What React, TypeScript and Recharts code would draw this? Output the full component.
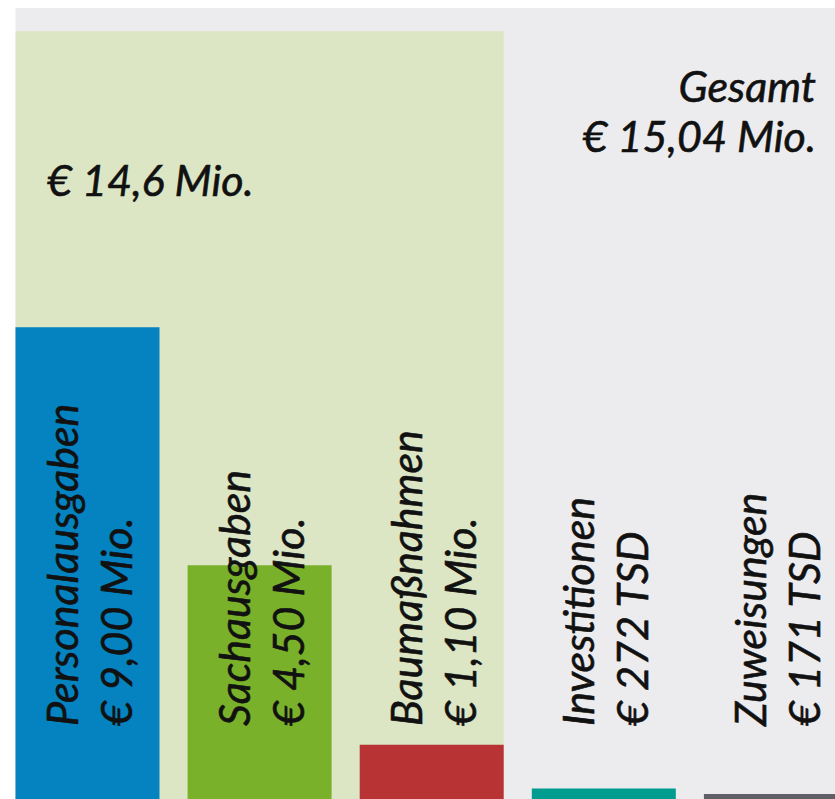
import { Bar, BarChart, Cell, LabelList, ReferenceArea, XAxis, YAxis } from "recharts";

// Haushalt: Ausgaben nach Bereichen (Mio. €)
const categories = ["Personalausgaben", "Sachausgaben", "Baumaßnahmen", "Investitionen", "Zuweisungen"];
const amounts = [9.0, 4.5, 1.1, 0.272, 0.171];
const amountLabels = ["€ 9,00 Mio.", "€ 4,50 Mio.", "€ 1,10 Mio.", "€ 272 TSD", "€ 171 TSD"];

const groupTotal = 14.6;
const groupLabel = "€ 14,6 Mio.";
const grandTotal = 15.04;
const grandTitle = "Gesamt";
const grandLabel = "€ 15,04 Mio.";

const barColors = ["#0483c0", "#7ab12b", "#b83334", "#009c8f", "#5f5f68"];

const data = categories.map((name, i) => ({ name, value: amounts[i] }));

const BAR_SIZE = 144;
const font = {
  fontFamily: "Lato",
  fontStyle: "italic",
  fontSize: 43,
  fill: "#111",
  stroke: "#111",
  strokeWidth: 0.6,
} as const;

// ReferenceArea spans whole bands; pull edges in so they line up with the bars
const inset = (props: any, from: string, to: string) => {
  const count = categories.indexOf(to) - categories.indexOf(from) + 1;
  return (props.width / count - BAR_SIZE) / 2;
};

const GroupShape = (props: any) => {
  const d = inset(props, categories[0], categories[2]);
  const x = props.x + d;
  return (
    <g>
      <rect x={x} y={props.y} width={props.width - 2 * d} height={props.height} fill="#dce6c5" />
      <text x={x + 31.5} y={props.y + 165} {...font}>
        {groupLabel}
      </text>
    </g>
  );
};

const TotalShape = (props: any) => {
  const d = inset(props, categories[0], categories[4]);
  const right = props.x + props.width - 46;
  return (
    <g>
      <rect x={props.x + d} y={props.y} width={props.width - d} height={props.height} fill="#ececee" />
      <text x={right} y={props.y + 94} textAnchor="end" {...font}>
        {grandTitle}
      </text>
      <text x={right} y={props.y + 144} textAnchor="end" {...font}>
        {grandLabel}
      </text>
    </g>
  );
};

const BarText = (props: any) => {
  const { x, y, height, index } = props;
  const bottom = y + height - 77;
  const nameX = x + 62;
  const valueX = x + 116;
  return (
    <g>
      <text x={nameX} y={bottom} transform={`rotate(-90, ${nameX}, ${bottom})`} {...font}>
        {categories[index]}
      </text>
      <text x={valueX} y={bottom} transform={`rotate(-90, ${valueX}, ${bottom})`} {...font}>
        {amountLabels[index]}
      </text>
    </g>
  );
};

const App = () => (
  <div style={{ position: "absolute", left: 0, top: 0, width: 835, height: 799, overflow: "hidden" }}>
    <BarChart width={862} height={803} data={data} margin={{ top: 8, right: 0, left: 1.5, bottom: 0 }}>
      <XAxis dataKey="name" hide />
      <YAxis hide domain={[0, grandTotal]} />
      <ReferenceArea
        x1={categories[0]}
        x2={categories[4]}
        y1={0}
        y2={grandTotal}
        ifOverflow="visible"
        shape={TotalShape}
      />
      <ReferenceArea
        x1={categories[0]}
        x2={categories[2]}
        y1={0}
        y2={groupTotal}
        ifOverflow="visible"
        shape={GroupShape}
      />
      <Bar dataKey="value" barSize={BAR_SIZE} isAnimationActive={false}>
        {data.map((d, i) => (
          <Cell key={d.name} fill={barColors[i]} />
        ))}
        <LabelList dataKey="value" content={BarText} />
      </Bar>
    </BarChart>
  </div>
);

export default App;
